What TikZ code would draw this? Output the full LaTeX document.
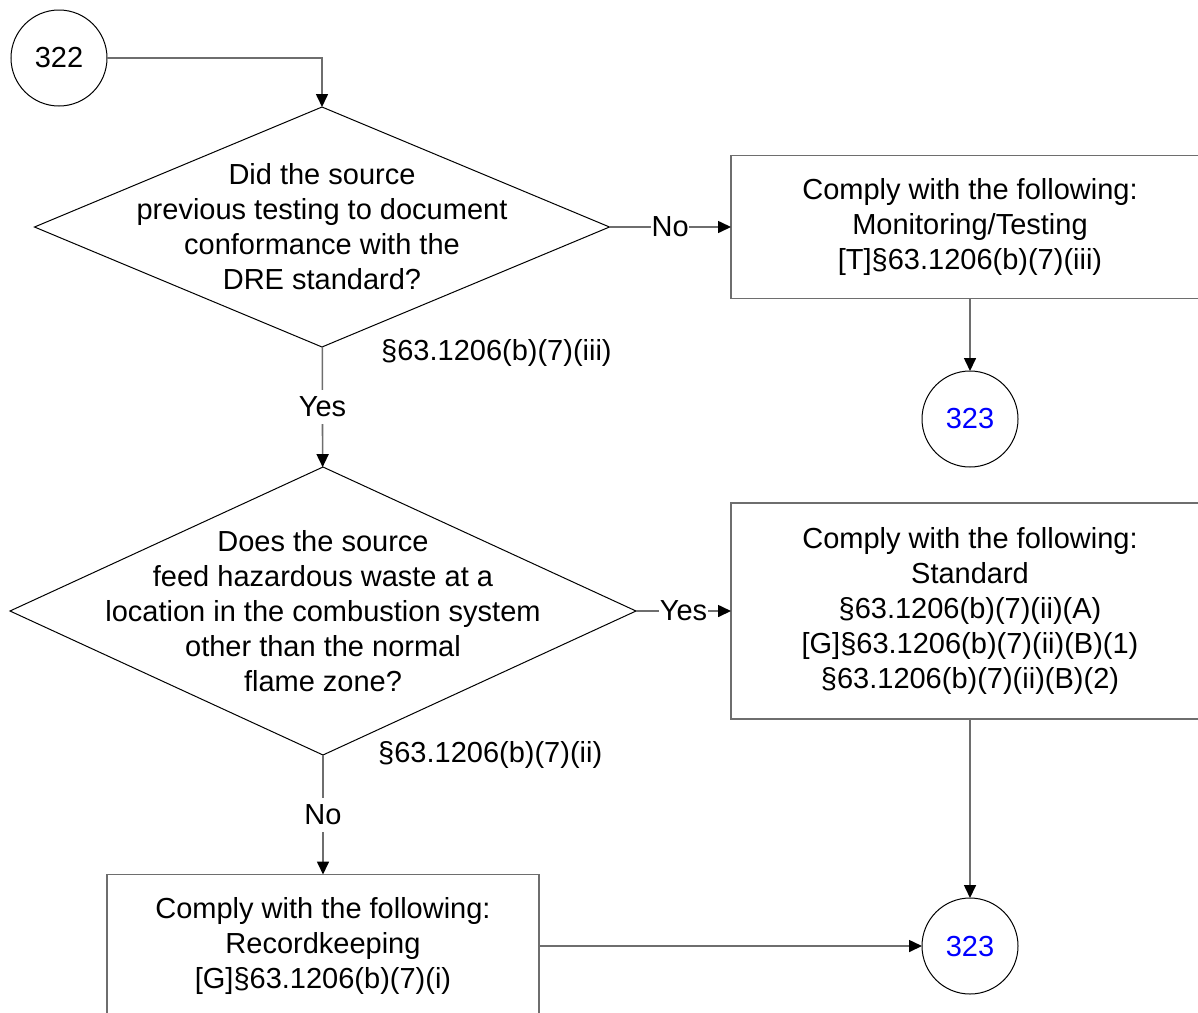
\documentclass[tikz,border=0pt]{standalone}
\usepackage{fontspec}
\setmainfont{Liberation Sans}
\usetikzlibrary{arrows.meta, shapes.geometric, positioning}
\definecolor{lineGrey}{HTML}{6E6E6E}
\definecolor{linkBlue}{HTML}{0000FF}

\begin{document}
\begin{tikzpicture}[
  x=1pt, y=-1pt,
  font=\fontsize{29}{35}\selectfont,
  decision/.style={diamond, draw=black, line width=1pt, inner sep=0pt, outer sep=0pt},
  qtext/.style={align=center, inner sep=0pt},
  action/.style={rectangle, draw=lineGrey, line width=1.6pt, align=center, outer sep=0pt},
  connector/.style={circle, draw=black, line width=1pt, minimum size=96pt, inner sep=0pt, outer sep=0pt},
  flow/.style={-{Triangle[length=13pt, width=12pt, color=black, fill=black]}, draw=lineGrey, line width=1.6pt},
  lbl/.style={fill=white, inner xsep=0.5pt, inner ysep=7pt},
  cite/.style={anchor=west, inner sep=0pt},
]
\clip (0,0) rectangle (1198,1012);

\node[connector] at (59,58) (c322) {322};

% first question
\node[decision, minimum width=575pt, minimum height=240pt] at (322,227) (q1) {};
\node[qtext] at (q1) {Did the source\\previous testing to document\\conformance with the\\DRE standard?};
\node[cite] at (381,353) (r1) {§63.1206(b)(7)(iii)};

\node[action, minimum width=478pt, minimum height=143pt] at (970,227) (a1)
  {Comply with the following:\\Monitoring/Testing\\{[T]}§63.1206(b)(7)(iii)};
\node[connector, text=linkBlue] at (970,419) (e1) {323};

% second question
\node[decision, minimum width=626pt, minimum height=288pt] at (323,611) (q2) {};
\node[qtext] at (q2) {Does the source\\feed hazardous waste at a\\location in the combustion system\\other than the normal\\flame zone?};
\node[cite] at (378,755) (r2) {§63.1206(b)(7)(ii)};

\node[action, minimum width=478pt, minimum height=216pt] at (970,611) (a2)
  {Comply with the following:\\Standard\\§63.1206(b)(7)(ii)(A)\\{[G]}§63.1206(b)(7)(ii)(B)(1)\\§63.1206(b)(7)(ii)(B)(2)};

\node[action, minimum width=432pt, minimum height=143pt] at (323,946) (a3)
  {Comply with the following:\\Recordkeeping\\{[G]}§63.1206(b)(7)(i)};
\node[connector, text=linkBlue] at (970,946) (e2) {323};

\draw[flow] (c322) -| (q1);
\draw[flow] (q1) -- node[lbl] {No} (a1);
\draw[flow] (a1) -- (e1);
\draw[flow] (q1) -- node[lbl] {Yes} (q2);
\draw[flow] (q2) -- node[lbl] {Yes} (a2);
\draw[flow] (a2) -- (e2);
\draw[flow] (q2) -- node[lbl] {No} (a3);
\draw[flow] (a3) -- (e2);

\end{tikzpicture}
\end{document}
